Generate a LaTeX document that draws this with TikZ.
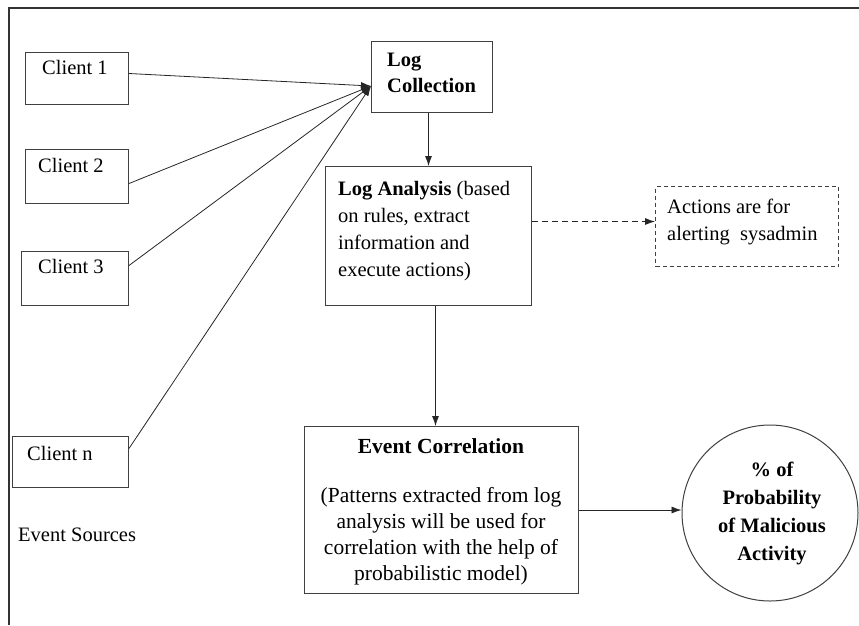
\documentclass[tikz,border=0pt]{standalone}
\usepackage{fontspec}
\setmainfont{Liberation Serif}
\usetikzlibrary{arrows.meta}
\begin{document}
\begin{tikzpicture}[x=1pt,y=-1pt,
  box/.style={draw=black!75, line width=1pt, inner sep=0pt, anchor=north west},
  dbox/.style={box, dash pattern=on 4pt off 3pt},
  txt/.style={inner sep=0pt, font=\fontsize{20.5}{27}\selectfont, align=left, anchor=base west},
  ctxt/.style={inner sep=0pt, font=\fontsize{21.5}{26}\selectfont, align=center, anchor=base},
  arr/.style={-{Latex[length=10pt,width=7pt]}, line width=0.8pt, draw=black!85}
]
\useasboundingbox (0,0) rectangle (859,625);

% outer frame (top and left edges)
\draw[line width=2pt, black!80] (9,625) -- (9,8) -- (859,8);

% event sources
\node[box, minimum width=103, minimum height=52] (c1) at (25,52) {};
\node[box, minimum width=103, minimum height=54] (c2) at (25,149) {};
\node[box, minimum width=107, minimum height=54] (c3) at (21,251) {};
\node[box, minimum width=116, minimum height=51] (cn) at (12,436) {};
\node[txt] (c1t) at (42,74) {Client 1};
\node[txt] (c2t) at (38,172) {Client 2};
\node[txt] (c3t) at (38,273) {Client 3};
\node[txt] (cnt) at (27,460) {Client n};
\node[txt] (src) at (18,541) {Event Sources};

% processing stages (multi-line texts are placed by the baseline of their last line)
\node[box, minimum width=121, minimum height=71] (lc) at (371,41) {};
\node[txt, font=\bfseries\fontsize{20.5}{26}\selectfont] (lct) at (387,92) {Log\\Collection};

\node[box, minimum width=206, minimum height=139] (la) at (325,166) {};
\node[txt] (lat) at (338,276) {\textbf{Log Analysis} (based\\on rules, extract\\information and\\execute actions)};

\node[dbox, minimum width=183, minimum height=80] (act) at (655,186) {};
\node[txt, font=\fontsize{20.5}{27}\selectfont] (actt) at (667,240) {Actions are for\\alerting~ sysadmin};

\node[box, minimum width=274, minimum height=167] (ec) at (304,426) {};
\node[ctxt, font=\bfseries\fontsize{21.5}{26}\selectfont] (ect) at (441,453) {Event Correlation};
\node[ctxt] (ecb) at (441,580) {(Patterns extracted from log\\analysis will be used for\\correlation with the help of\\probabilistic model)};

\node[draw=black!75, line width=1pt, circle, minimum size=176, inner sep=0pt] (res) at (770,513) {};
\node[ctxt, font=\bfseries\fontsize{20.5}{28}\selectfont] (rest) at (772,560) {\% of\\Probability\\of Malicious\\Activity};

% connectors
\coordinate (hub) at ([yshift=-9pt]lc.west);
\draw[arr] ([yshift=5pt]c1.east) -- (hub);
\draw[arr] ([yshift=-7pt]c2.east) -- (hub);
\draw[arr] ([yshift=13pt]c3.east) -- (hub);
\draw[arr] ([yshift=13.5pt]cn.east) -- (hub);
\draw[arr] ([xshift=-3.5pt]lc.south) -- ([xshift=-3.5pt]lc.south |- la.north);
\draw[arr, dash pattern=on 6pt off 4pt] ([yshift=14.5pt]la.east) -- ([yshift=14.5pt]la.east -| act.west);
\draw[arr] ([xshift=7pt]la.south) -- ([xshift=7pt]la.south |- ec.north);
\draw[arr] (ec.east) -- (ec.east -| res.west);
\end{tikzpicture}
\end{document}
